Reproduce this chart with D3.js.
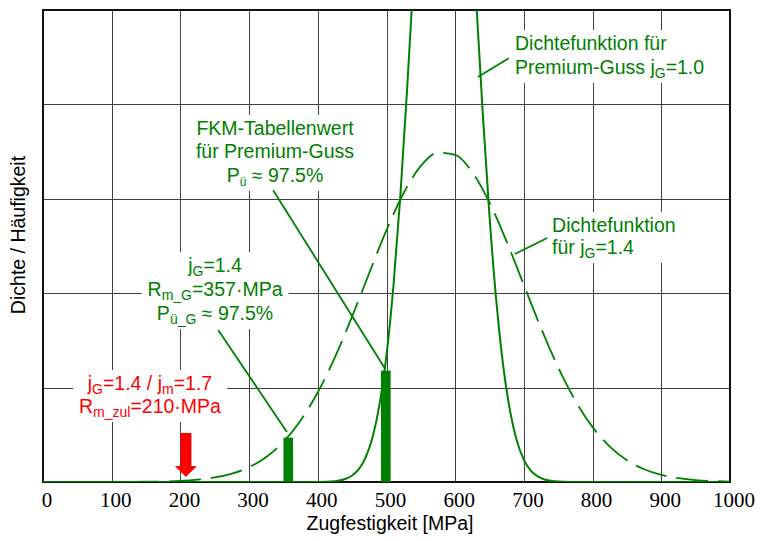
<!DOCTYPE html>
<html>
<head>
<meta charset="utf-8">
<script src="https://cdn.jsdelivr.net/npm/d3@7"></script>
<style>
  html, body { margin: 0; padding: 0; background: #fff; }
  svg { display: block; }
</style>
</head>
<body>
<svg id="chart" width="760" height="541"></svg>
<script>
// ---------- data ----------
const xTicks = [0, 100, 200, 300, 400, 500, 600, 700, 800, 900, 1000];
const yGrid = [0, 1, 2, 3, 4, 5];

// density jG = 1.4 (dashed)
const dens14X = [0, 100, 150, 200, 225, 250, 275, 300, 325, 350, 375, 400, 425, 450, 475, 500, 525, 550, 575, 600, 625, 650, 675, 700, 725, 750, 775, 800, 825, 850, 875, 900, 925, 950, 975, 1000];
const dens14Y = [0, 0.0004, 0.0025, 0.012, 0.025, 0.048, 0.089, 0.157, 0.265, 0.426, 0.652, 0.951, 1.323, 1.754, 2.216, 2.668, 3.061, 3.348, 3.489, 3.466, 3.281, 2.960, 2.545, 2.086, 1.629, 1.212, 0.860, 0.581, 0.375, 0.230, 0.135, 0.075, 0.040, 0.020, 0.010, 0.0045];

// density Premium-Guss jG = 1.0 (solid)
const dens10X = [0, 400, 425, 440, 450, 460, 470, 480, 490, 500, 510, 520, 530, 540, 550, 560, 570, 580, 590, 600, 610, 620, 630, 640, 650, 660, 670, 680, 690, 700, 710, 720, 730, 745, 770, 1000];
const dens10Y = [0, 0.001, 0.009, 0.032, 0.069, 0.139, 0.266, 0.482, 0.827, 1.343, 2.068, 3.014, 4.160, 5.436, 6.725, 7.879, 8.740, 9.180, 9.130, 8.598, 7.667, 6.473, 5.174, 3.918, 2.808, 1.906, 1.225, 0.745, 0.429, 0.234, 0.121, 0.059, 0.027, 0.008, 0.001, 0];

// bars (Häufigkeit)
const barX = [357, 499];
const barY = [0.47, 1.18];

// red arrow position (Rm_zul)
const arrowX = [208];

// texts
const xTitle = "Zugfestigkeit [MPa]";
const yTitle = "Dichte / Häufigkeit";
const labelPremium = [
  [{t: "Dichtefunktion für"}],
  [{t: "Premium-Guss j"}, {t: "G", sub: true}, {t: "=1.0"}]
];
const labelFKM = [
  [{t: "FKM-Tabellenwert"}],
  [{t: "für Premium-Guss"}],
  [{t: "P"}, {t: "ü", sub: true, small: true}, {t: " ≈ 97.5%"}]
];
const labelJG = [
  [{t: "j"}, {t: "G", sub: true}, {t: "=1.4"}],
  [{t: "R"}, {t: "m_G", sub: true}, {t: "=357·MPa"}],
  [{t: "P"}, {t: "ü_G", sub: true}, {t: " ≈ 97.5%"}]
];
const labelRed = [
  [{t: "j"}, {t: "G", sub: true}, {t: "=1.4 / j"}, {t: "m", sub: true}, {t: "=1.7"}],
  [{t: "R"}, {t: "m_zul", sub: true}, {t: "=210·MPa"}]
];
const label14 = [
  [{t: "Dichtefunktion"}],
  [{t: "für j"}, {t: "G", sub: true}, {t: "=1.4"}]
];

// annotation anchor points [MPa, density units]
const leaderPremium = [[633, 4.29], [678, 4.49]];
const leaderFKM = [[335, 3.09], [498, 1.20]];
const leaderJG = [[255, 1.61], [355, 0.53]];
const leader14 = [[687, 2.415], [734, 2.585]];

// ---------- drawing ----------
const svg = d3.select("#chart");
const green = "#008000";
const red = "#ff0000";
const sans = "'Liberation Sans', Arial, sans-serif";
const serif = "'Liberation Serif', 'Times New Roman', serif";

const x = d3.scaleLinear().domain([0, 1000]).range([43, 730]);
const y = d3.scaleLinear().domain([0, 5]).range([482, 10]);

svg.append("defs").append("clipPath").attr("id", "plotclip")
  .append("rect").attr("x", x(0)).attr("y", y(5)).attr("width", x(1000) - x(0)).attr("height", y(0) - y(5));

// grid
const grid = svg.append("g");
grid.selectAll("line.v").data(xTicks.slice(1, -1)).join("line")
  .attr("x1", d => Math.round(x(d)) + 0.5).attr("x2", d => Math.round(x(d)) + 0.5)
  .attr("y1", y(5)).attr("y2", y(0))
  .attr("stroke", "#404040").attr("stroke-width", 1);
grid.selectAll("line.h").data(yGrid.slice(1, -1)).join("line")
  .attr("y1", d => Math.round(y(d)) + 0.5).attr("y2", d => Math.round(y(d)) + 0.5)
  .attr("x1", x(0)).attr("x2", x(1000))
  .attr("stroke", "#404040").attr("stroke-width", 1);

// border
svg.append("rect").attr("x", x(0)).attr("y", y(5))
  .attr("width", x(1000) - x(0)).attr("height", y(0) - y(5))
  .attr("fill", "none").attr("stroke", "#111").attr("stroke-width", 2);

// layers
const bgLayer = svg.append("g");
const curveLayer = svg.append("g").attr("clip-path", "url(#plotclip)");
const barLayer = svg.append("g");
const textLayer = svg.append("g");
const leaderLayer = svg.append("g");

// curves
const line = d3.line().x(d => x(d[0])).y(d => y(d[1])).curve(d3.curveMonotoneX);
curveLayer.append("path").datum(dens14X.map((v, i) => [v, dens14Y[i]]))
  .attr("d", line).attr("fill", "none").attr("stroke", green)
  .attr("stroke-width", 1.8).attr("stroke-dasharray", "32,10");
curveLayer.append("path").datum(dens10X.map((v, i) => [v, dens10Y[i]]))
  .attr("d", line).attr("fill", "none").attr("stroke", green).attr("stroke-width", 2);

// bars
const barW = 14; // MPa
barLayer.selectAll("rect").data(barX).join("rect")
  .attr("x", d => x(d - barW / 2)).attr("width", d => x(d + barW / 2) - x(d - barW / 2))
  .attr("y", (d, i) => y(barY[i])).attr("height", (d, i) => y(0) - y(barY[i]))
  .attr("fill", green);

// red arrow
barLayer.selectAll("path.arrow").data(arrowX).join("path")
  .attr("d", d => {
    const cx = x(d), tip = y(0) - 5;
    return `M${cx - 5.5},${tip - 44} L${cx + 5.5},${tip - 44} L${cx + 5.5},${tip - 11} L${cx + 11},${tip - 11} L${cx},${tip} L${cx - 11},${tip - 11} L${cx - 5.5},${tip - 11} Z`;
  })
  .attr("fill", red);

// text helper
function addLabel(lines, px, py, anchor, color, lh) {
  const t = textLayer.append("text")
    .attr("x", px).attr("y", py)
    .attr("text-anchor", anchor)
    .attr("font-family", sans).attr("font-size", 19.5)
    .attr("fill", color);
  lines.forEach((segs, li) => {
    segs.forEach((s, si) => {
      const ts = t.append("tspan").text(s.t);
      if (si === 0) ts.attr("x", px).attr("y", py + li * lh);
      if (s.sub) {
        ts.attr("font-size", s.small ? 12 : 14).attr("dy", 4);
      } else if (si > 0 && segs[si - 1].sub) {
        ts.attr("dy", -4);
      }
    });
  });
  const bb = t.node().getBBox();
  bgLayer.append("rect").attr("x", bb.x - 6).attr("y", bb.y - 2)
    .attr("width", bb.width + 12).attr("height", bb.height + 4).attr("fill", "#fff");
}

addLabel(labelPremium, x(687), y(4.576), "start", green, 24);
addLabel(labelFKM, x(337.7), y(3.676), "middle", green, 23.5);
addLabel(labelJG, x(250.4), y(2.225), "middle", green, 24);
addLabel(labelRed, x(155.7), y(0.975), "middle", red, 23);
addLabel(label14, x(741), y(2.648), "start", green, 22);

// leaders
[leaderPremium, leaderFKM, leaderJG, leader14].forEach(l => {
  leaderLayer.append("line")
    .attr("x1", x(l[0][0])).attr("y1", y(l[0][1]))
    .attr("x2", x(l[1][0])).attr("y2", y(l[1][1]))
    .attr("stroke", green).attr("stroke-width", 1.8);
});

// x tick labels
svg.append("g").selectAll("text").data(xTicks).join("text")
  .attr("x", d => x(d) + 4).attr("y", 507)
  .attr("text-anchor", "middle")
  .attr("font-family", serif).attr("font-size", 21)
  .attr("fill", "#000")
  .text(d => d);

// axis titles
svg.append("text").attr("x", 390).attr("y", 530)
  .attr("text-anchor", "middle").attr("font-family", sans).attr("font-size", 19.5)
  .attr("fill", "#000").text(xTitle);
svg.append("text").attr("transform", "translate(25,235) rotate(-90)")
  .attr("text-anchor", "middle").attr("font-family", sans).attr("font-size", 19.5)
  .attr("fill", "#000").text(yTitle);
</script>
</body>
</html>
